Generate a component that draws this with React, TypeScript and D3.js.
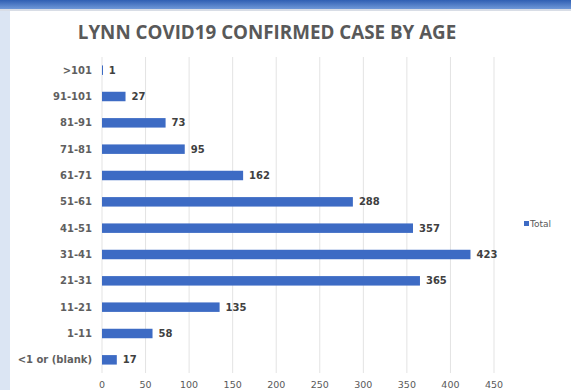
import React from "react";
import * as d3 from "d3";

const categories = ["<1 or (blank)", "1-11", "11-21", "21-31", "31-41", "41-51", "51-61", "61-71", "71-81", "81-91", "91-101", ">101"];
const totals = [17, 58, 135, 365, 423, 357, 288, 162, 95, 73, 27, 1];
const xTicks = [0, 50, 100, 150, 200, 250, 300, 350, 400, 450];
const title = "LYNN COVID19 CONFIRMED CASE BY AGE";
const legendLabel = "Total";

const W = 571;
const H = 390;
const TFONT = "'Open Sans', 'DejaVu Sans', sans-serif";
const FONT = "'DejaVu Sans', sans-serif";

export default function App() {
  const x = d3.scaleLinear().domain([0, 450]).range([102, 494]);
  const y = d3
    .scaleBand<string>()
    .domain([...categories].reverse())
    .range([57, 373])
    .paddingInner(0.64)
    .paddingOuter(0.32);
  const bw = y.bandwidth();
  return (
    <svg
      width={W}
      height={H}
      style={{ position: "absolute", left: 0, top: 0, background: "#fff" }}
    >
      <defs>
        <linearGradient id="topbar" x1="0" y1="0" x2="0" y2="1">
          <stop offset="0" stopColor="#2f5fb3" />
          <stop offset="1" stopColor="#6f98d8" />
        </linearGradient>
      </defs>
      <rect x={0} y={0} width={W} height={H} fill="#fff" />
      <rect x={0} y={0} width={W} height={9} fill="url(#topbar)" />
      <rect x={0} y={9} width={W} height={2} fill="#d8dde6" />
      <rect x={0} y={11} width={10} height={H - 11} fill="#dbe5f3" />
      <text
        x={267}
        y={39}
        textAnchor="middle"
        fontFamily={TFONT}
        fontWeight="bold"
        fontSize={18.8}
        fill="#595959"
      >
        {title}
      </text>
      {xTicks.map((t) => (
        <g key={t}>
          <line x1={x(t)} x2={x(t)} y1={57} y2={373} stroke="#e3e3e3" strokeWidth={1} />
          <text
            x={x(t)}
            y={388}
            textAnchor="middle"
            fontFamily={FONT}
            fontSize={9.5}
            fill="#595959"
          >
            {t}
          </text>
        </g>
      ))}
      {categories.map((c, i) => {
        const yy = y(c)!;
        const v = totals[i];
        return (
          <g key={c}>
            <text
              x={92}
              y={yy + bw / 2}
              dy="0.35em"
              textAnchor="end"
              fontFamily={FONT}
              fontWeight="bold"
              fontSize={10}
              fill="#5f5f5f"
            >
              {c}
            </text>
            <rect
              x={x(0)}
              y={yy}
              width={Math.max(1, x(v) - x(0))}
              height={bw}
              fill="#3d6bc4"
            />
            <text
              x={x(v) + 6}
              y={yy + bw / 2}
              dy="0.35em"
              fontFamily={FONT}
              fontWeight="bold"
              fontSize={10}
              fill="#404040"
            >
              {v}
            </text>
          </g>
        );
      })}
      <rect x={524} y={221} width={5} height={5} fill="#3d6bc4" />
      <text x={530} y={227} fontFamily={FONT} fontSize={9} fill="#595959">
        {legendLabel}
      </text>
    </svg>
  );
}
